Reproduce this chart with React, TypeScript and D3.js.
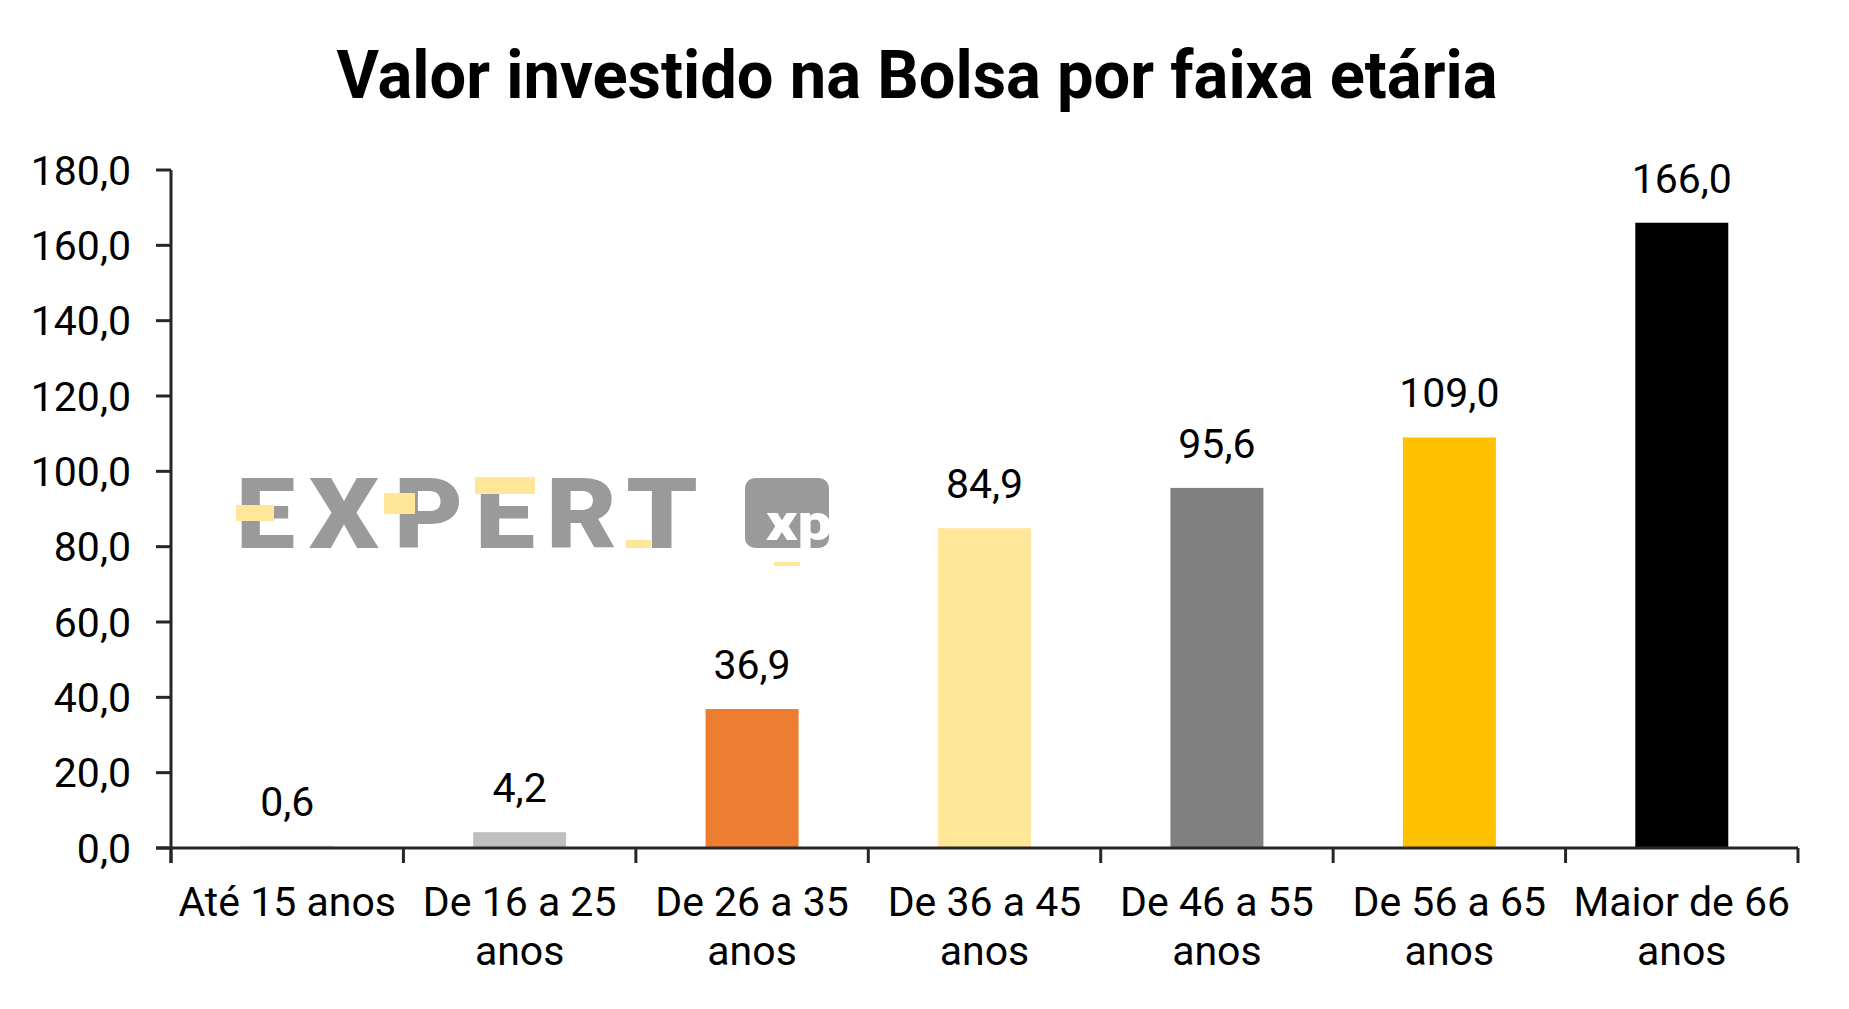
import React from "react";
import * as d3 from "d3";

const title = "Valor investido na Bolsa por faixa etária";
const categories = [
  ["Até 15 anos"],
  ["De 16 a 25", "anos"],
  ["De 26 a 35", "anos"],
  ["De 36 a 45", "anos"],
  ["De 46 a 55", "anos"],
  ["De 56 a 65", "anos"],
  ["Maior de 66", "anos"],
];
const values = [0.6, 4.2, 36.9, 84.9, 95.6, 109.0, 166.0];
const barColors = ["#d9d9d9", "#bfbfbf", "#ed7d31", "#ffe699", "#808080", "#ffc000", "#000000"];
const yTicks = [0, 20, 40, 60, 80, 100, 120, 140, 160, 180];

const W = 1849;
const H = 1009;
const left = 171;
const right = 1798;
const top = 170;
const bottom = 848;
const FONT = "Roboto, 'Noto Sans', sans-serif";
const AX = "#262626";

const fmt = (v: number) => d3.format(".1f")(v).replace(".", ",");

export default function App() {
  const x = d3.scaleBand<number>().domain(d3.range(values.length)).range([left, right]).padding(0);
  const y = d3.scaleLinear().domain([0, 180]).range([bottom, top]);
  const bw = x.bandwidth() * 0.4;

  // watermark geometry
  const logoLetters = [
    { t: "E", x0: 236, x1: 295 },
    { t: "X", x0: 309, x1: 379 },
    { t: "P", x0: 394, x1: 463 },
    { t: "E", x0: 475, x1: 535 },
    { t: "R", x0: 546, x1: 617 },
    { t: "T", x0: 626, x1: 698 },
  ];
  const accents = [
    [236, 505, 38, 16],
    [384, 493, 31, 21],
    [475, 477, 60, 17],
    [626, 540, 25, 8],
    [774, 562, 26, 4],
  ];

  return (
    <svg
      width={W}
      height={H}
      style={{ position: "absolute", left: 0, top: 0, background: "#fff" }}
      fontFamily={FONT}
    >
      <rect x={0} y={0} width={W} height={H} fill="#fff" />
      <text
        x={917}
        y={98}
        textAnchor="middle"
        fontSize={66}
        fontWeight={700}
        fill="#000"
        textLength={1161}
        lengthAdjust="spacingAndGlyphs"
      >
        {title}
      </text>

      {/* watermark */}
      <g>
        {logoLetters.map((l, i) => (
          <text
            key={i}
            x={l.x0}
            y={548}
            fontSize={98}
            fontWeight={900}
            fill="#9a9a9a"
            textLength={l.x1 - l.x0}
            lengthAdjust="spacingAndGlyphs"
          >
            {l.t}
          </text>
        ))}
        {accents.map((a, i) => (
          <rect key={i} x={a[0]} y={a[1]} width={a[2]} height={a[3]} fill="#ffe699" />
        ))}
        <rect x={745} y={478} width={84} height={70} rx={10} fill="#9a9a9a" />
        <text x={766} y={540} fontSize={50} fontWeight={900} fill="#fff" textLength={66} lengthAdjust="spacingAndGlyphs">
          xp
        </text>
      </g>

      {/* bars */}
      {values.map((v, i) => (
        <rect
          key={i}
          x={(x(i) as number) + (x.bandwidth() - bw) / 2}
          y={y(v)}
          width={bw}
          height={y(0) - y(v)}
          fill={barColors[i]}
        />
      ))}

      {/* value labels */}
      {values.map((v, i) => (
        <text
          key={i}
          x={(x(i) as number) + x.bandwidth() / 2}
          y={y(v) - 30}
          textAnchor="middle"
          fontSize={41}
          fill="#000"
        >
          {fmt(v)}
        </text>
      ))}

      {/* y axis */}
      <line x1={left} x2={left} y1={top} y2={bottom + 15} stroke={AX} strokeWidth={3} />
      {yTicks.map((t) => (
        <g key={t}>
          <line x1={left - 15} x2={left} y1={y(t)} y2={y(t)} stroke={AX} strokeWidth={3} />
          <text x={131} y={y(t) + 14.5} textAnchor="end" fontSize={41} fill="#000">
            {fmt(t)}
          </text>
        </g>
      ))}

      {/* x axis */}
      <line x1={left - 15} x2={right} y1={bottom} y2={bottom} stroke={AX} strokeWidth={3} />
      {d3.range(values.length + 1).map((i) => {
        const xx = i < values.length ? (x(i) as number) : right;
        return <line key={i} x1={xx} x2={xx} y1={bottom} y2={bottom + 15} stroke={AX} strokeWidth={3} />;
      })}
      {categories.map((lines, i) => (
        <text key={i} textAnchor="middle" fontSize={41} fill="#000">
          {lines.map((ln, j) => (
            <tspan key={j} x={(x(i) as number) + x.bandwidth() / 2} y={916 + j * 49}>
              {ln}
            </tspan>
          ))}
        </text>
      ))}
    </svg>
  );
}
